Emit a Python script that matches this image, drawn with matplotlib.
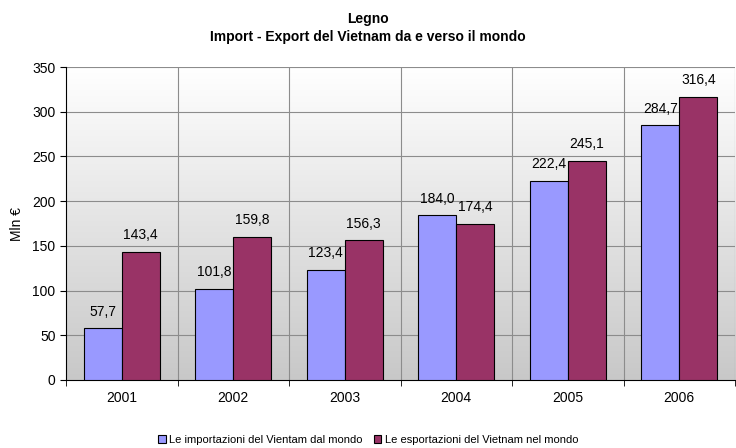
import numpy as np
import matplotlib.pyplot as plt
from matplotlib.colors import LinearSegmentedColormap

plt.rcParams['font.family'] = ['Liberation Sans', 'DejaVu Sans']

years = ['2001', '2002', '2003', '2004', '2005', '2006']
imports = [57.7, 101.8, 123.4, 184.0, 222.4, 284.7]
exports = [143.4, 159.8, 156.3, 174.4, 245.1, 316.4]
labels = ['Le importazioni del Vientam dal mondo', 'Le esportazioni del Vietnam nel mondo']

fig = plt.figure(figsize=(7.36, 4.48), dpi=100)
ax = fig.add_axes([0.0897, 0.1518, 0.909, 0.6986])

x = np.arange(len(years))
w = 0.34

# gradient background: white at top, grey at bottom
grad = np.linspace(0, 1, 256).reshape(-1, 1)
cmap = LinearSegmentedColormap.from_list('g', ['#c8c8c8', '#ffffff'])
ax.imshow(grad, extent=[-0.5, len(years) - 0.5, 0, 350], aspect='auto',
          cmap=cmap, origin='lower', zorder=0)

b1 = ax.bar(x - w / 2, imports, w, color='#9999FF', edgecolor='black', linewidth=0.8, zorder=3, label=labels[0])
b2 = ax.bar(x + w / 2, exports, w, color='#993366', edgecolor='black', linewidth=0.8, zorder=3, label=labels[1])

for bars, vals in ((b1, imports), (b2, exports)):
    for r, v in zip(bars, vals):
        ax.annotate(f'{v:.1f}'.replace('.', ','), (r.get_x() + r.get_width() / 2, v),
                    xytext=(0, 12), textcoords='offset points',
                    ha='center', va='center', fontsize=10, zorder=4)

ax.set_xlim(-0.5, len(years) - 0.5)
ax.set_ylim(0, 350)
ax.set_yticks(range(0, 351, 50))
ax.set_xticks(x)
ax.set_xticklabels(years)
ax.set_xticks(np.arange(-0.5, len(years)), minor=True)
ax.tick_params(axis='x', which='major', length=0, pad=8, labelsize=10)
ax.tick_params(axis='x', which='minor', length=4)
ax.tick_params(axis='y', labelsize=10, length=4)
for yv in range(50, 351, 50):
    ax.axhline(yv, color='#8c8c8c', linewidth=0.8, zorder=1)
for xv in np.arange(0.5, len(years)):
    ax.axvline(xv, color='#8c8c8c', linewidth=0.8, zorder=1)

ax.spines['top'].set_visible(False)
ax.spines['right'].set_visible(False)
ax.set_ylabel('Mln €', fontsize=10, labelpad=6)

fig.text(0.5, 0.958, 'Legno', ha='center', va='center', fontsize=10, fontweight='bold')
fig.text(0.5, 0.918, 'Import - Export del Vietnam da e verso il mondo', ha='center', va='center',
         fontsize=10, fontweight='bold')

fig.legend(loc='center', bbox_to_anchor=(0.5, 0.018), ncol=2, frameon=False, fontsize=8,
           handlelength=0.7, handleheight=0.7, handletextpad=0.3, columnspacing=1.0)

fig.savefig('out.png', dpi=100)
